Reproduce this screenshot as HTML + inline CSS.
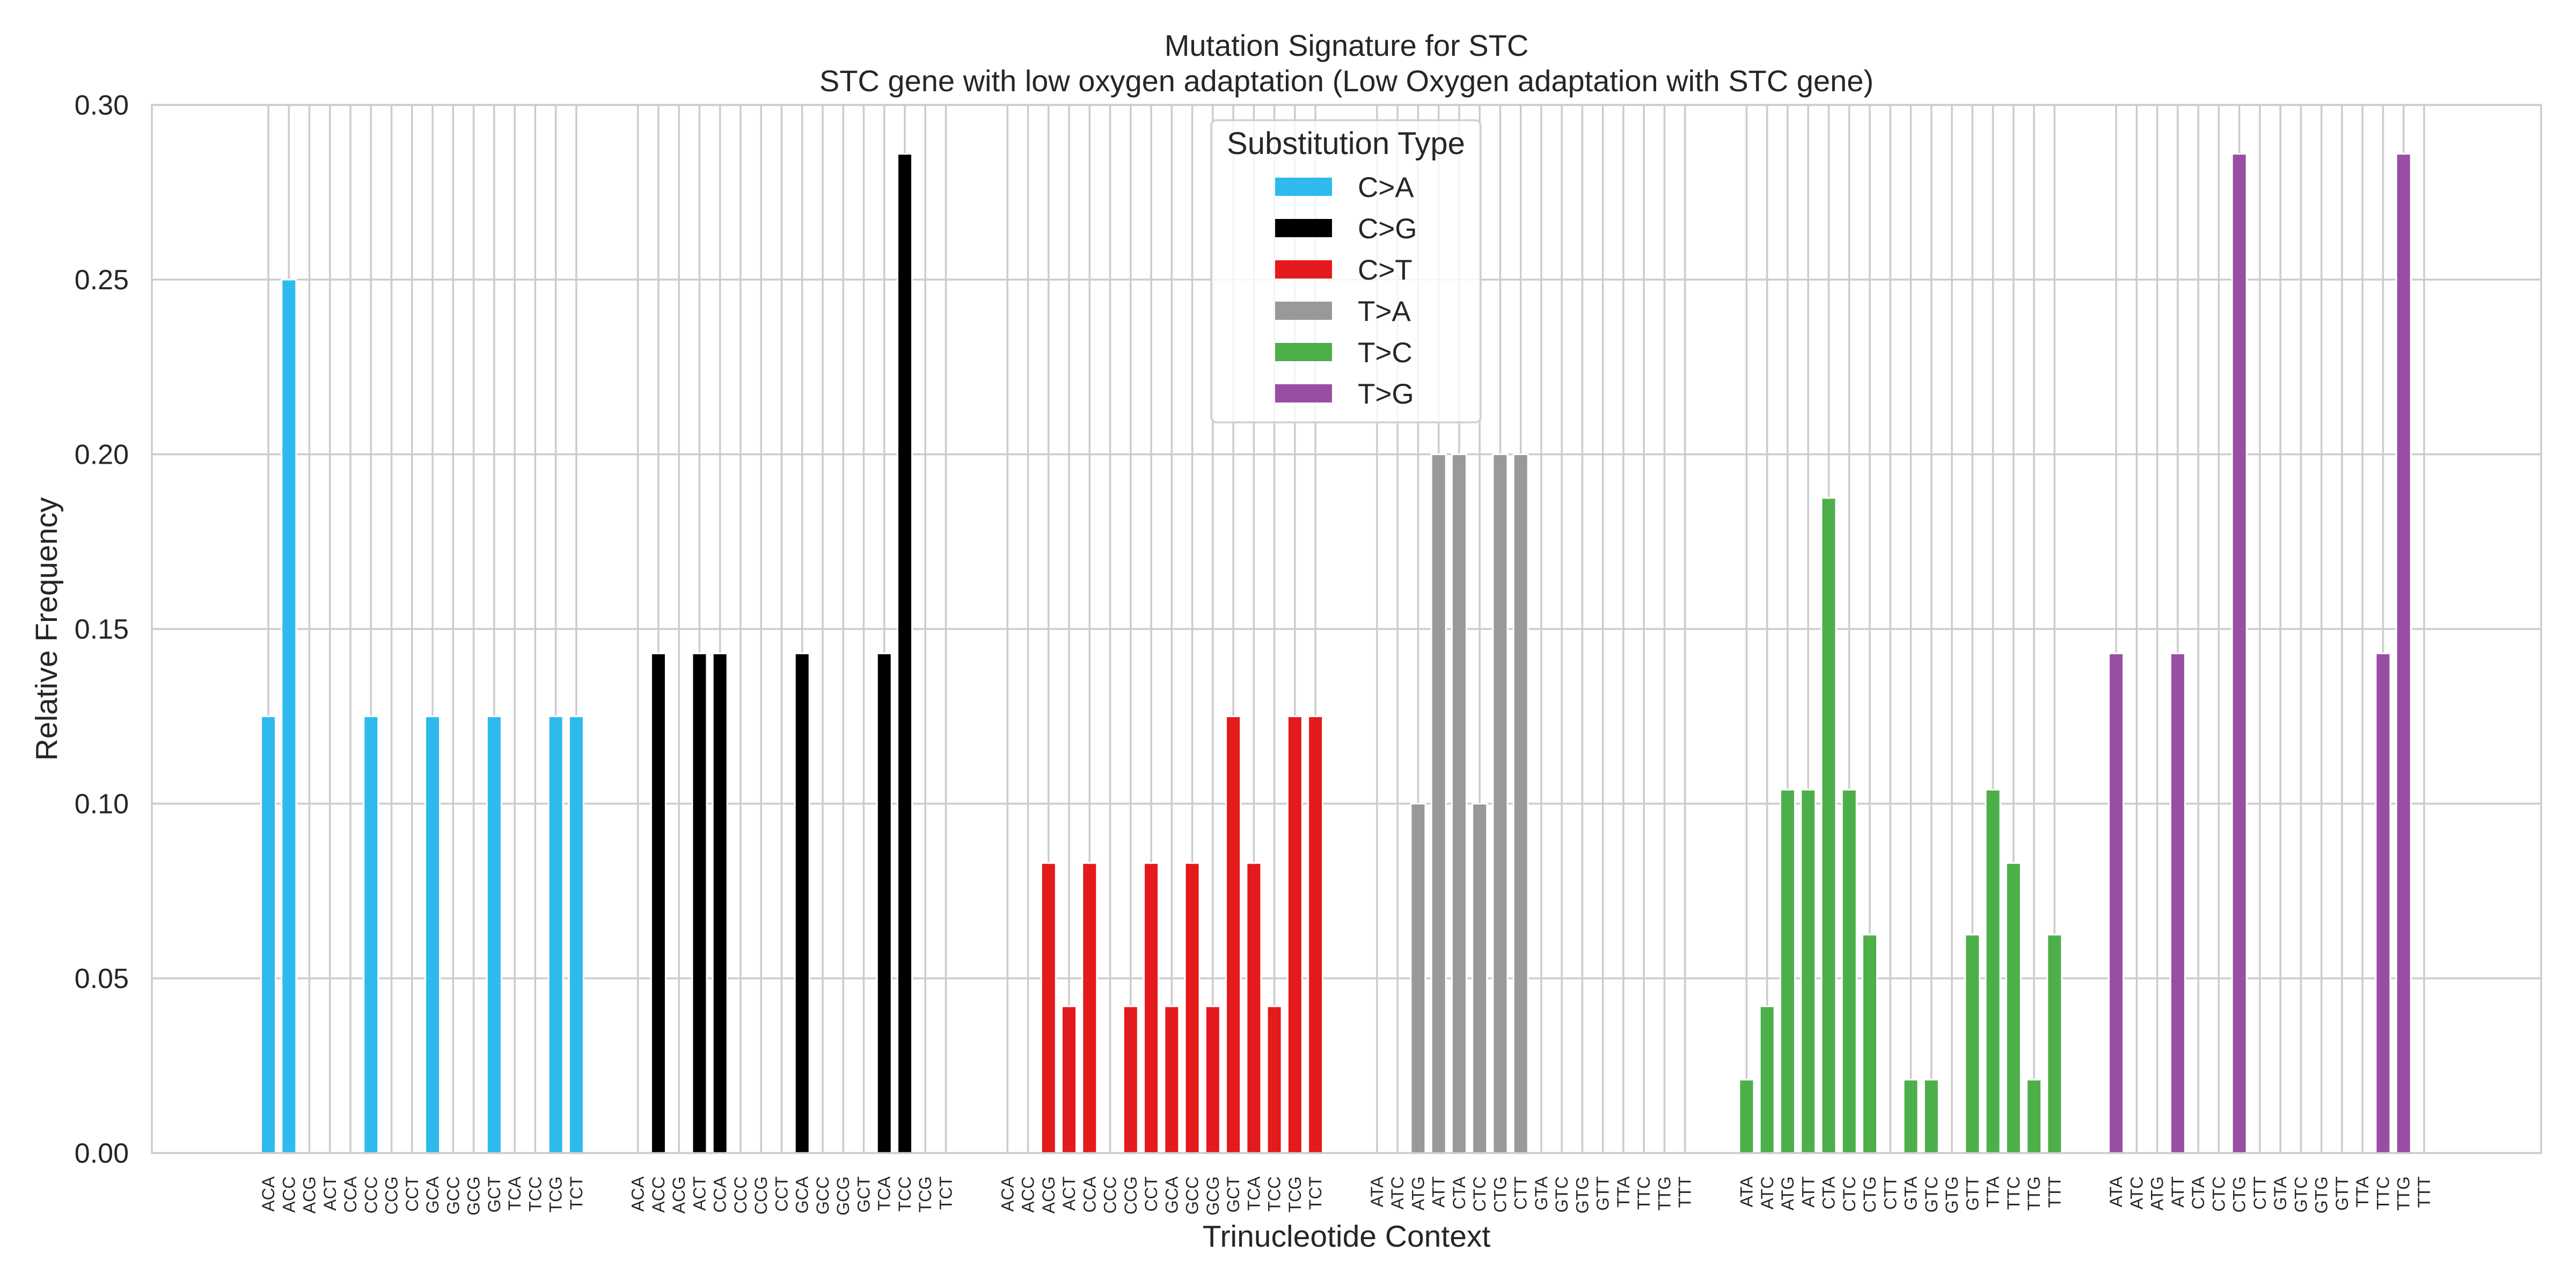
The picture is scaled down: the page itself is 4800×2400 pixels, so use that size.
<!DOCTYPE html>
<html><head><meta charset="utf-8"><style>
html,body{margin:0;padding:0;background:#fff;}
svg{display:block;font-family:"Liberation Sans",sans-serif;}
</style></head><body>
<svg id="chart" width="4800" height="2400" viewBox="0 0 4800 2400" xmlns="http://www.w3.org/2000/svg">
<rect width="4800" height="2400" fill="#fff"/>
<g id="grid"></g>
<g id="bars"></g>
<rect x="283" y="195.5" width="4452" height="1953" fill="none" stroke="#cccccc" stroke-width="3.5"/>
<g id="yticks"></g>
<g id="xticks"></g>
<text x="2509" y="104" font-size="56" text-anchor="middle" fill="#262626">Mutation Signature for STC</text>
<text x="2509" y="170" font-size="56" text-anchor="middle" fill="#262626">STC gene with low oxygen adaptation (Low Oxygen adaptation with STC gene)</text>
<text x="2509" y="2323" font-size="57" text-anchor="middle" fill="#262626">Trinucleotide Context</text>
<text x="106" y="1172" font-size="57" text-anchor="middle" fill="#262626" transform="rotate(-90 106 1172)">Relative Frequency</text>
<g id="legend"></g>
</svg>
<script>
const groups = ["C>A","C>G","C>T","T>A","T>C","T>G"];
const colors = ["#2EBAED","#000000","#E41A1C","#999999","#4DAF4A","#984EA3"];
const cContexts = ["ACA","ACC","ACG","ACT","CCA","CCC","CCG","CCT","GCA","GCC","GCG","GCT","TCA","TCC","TCG","TCT"];
const tContexts = ["ATA","ATC","ATG","ATT","CTA","CTC","CTG","CTT","GTA","GTC","GTG","GTT","TTA","TTC","TTG","TTT"];
const valsCA = [0.125,0.25,0,0,0,0.125,0,0,0.125,0,0,0.125,0,0,0.125,0.125];
const valsCG = [0,0.143,0,0.143,0.143,0,0,0,0.143,0,0,0,0.143,0.286,0,0];
const valsCT = [0,0,0.083,0.042,0.083,0,0.042,0.083,0.042,0.083,0.042,0.125,0.083,0.042,0.125,0.125];
const valsTA = [0,0,0.1,0.2,0.2,0.1,0.2,0.2,0,0,0,0,0,0,0,0];
const valsTC = [0.021,0.042,0.104,0.104,0.1875,0.104,0.0625,0,0.021,0.021,0,0.0625,0.104,0.083,0.021,0.0625];
const valsTG = [0.143,0,0,0.143,0,0,0.286,0,0,0,0,0,0,0.143,0.286,0];
const yTicks = [0,0.05,0.10,0.15,0.20,0.25,0.30];
const yTickLabels = ["0.00","0.05","0.10","0.15","0.20","0.25","0.30"];

const NS="http://www.w3.org/2000/svg";
const X0=500, UNIT=38.257, GSTRIDE=18, Y0=2148.5, YS=6510;
const xPos=(g,k)=>X0+(g*GSTRIDE+k)*UNIT;
const yPos=v=>Y0-v*YS;
const series=[valsCA,valsCG,valsCT,valsTA,valsTC,valsTG];
function mk(tag,attrs,parent){const e=document.createElementNS(NS,tag);for(const k in attrs)e.setAttribute(k,attrs[k]);parent.appendChild(e);return e;}
const grid=document.getElementById('grid'),bars=document.getElementById('bars'),yt=document.getElementById('yticks'),xt=document.getElementById('xticks'),lg=document.getElementById('legend');

yTicks.forEach((v,i)=>{
  const l=mk('line',{x1:283,x2:4735,y1:yPos(v),y2:yPos(v),stroke:'#cccccc','stroke-width':3.5},grid);
  
  
  const t=mk('text',{x:240,y:yPos(v)+18,'font-size':52,'text-anchor':'end',fill:'#262626'},yt);
  t.textContent=yTickLabels[i];
  
  
});
groups.forEach((g,gi)=>{
  const ctx=gi<3?cContexts:tContexts;
  ctx.forEach((c,k)=>{
    const x=xPos(gi,k);
    const l=mk('line',{x1:x,x2:x,y1:195.5,y2:Y0,stroke:'#cccccc','stroke-width':3.5},grid);
    
    
    const t=mk('text',{x:0,y:0,'font-size':32,'text-anchor':'end',fill:'#262626',transform:`translate(${x+11},2192) rotate(-90)`},xt);
    t.textContent=c;
    
    
    const v=series[gi][k];
    if(v>0){
      const h=v*YS;
      const r=mk('rect',{x:x-13.5,y:Y0-h,width:27,height:h,fill:colors[gi],stroke:'#fff','stroke-width':3},bars);
      
      
    }
  });
});
const box=mk('rect',{x:2257,y:224,width:502,height:563,rx:10,fill:'#fff','fill-opacity':0.8,stroke:'#d0d0d0','stroke-width':3.5},lg);


const lt=mk('text',{x:2508,y:287,'font-size':58,'text-anchor':'middle',fill:'#262626'},lg);
lt.textContent='Substitution Type';


groups.forEach((g,i)=>{
  const y=331+i*77;
  const s=mk('rect',{x:2376,y:y,width:106,height:34,fill:colors[i]},lg);
  
  
  const t=mk('text',{x:2530,y:y+36,'font-size':53,fill:'#262626'},lg);
  t.textContent=g;
  
  
});
</script>
</body></html>
